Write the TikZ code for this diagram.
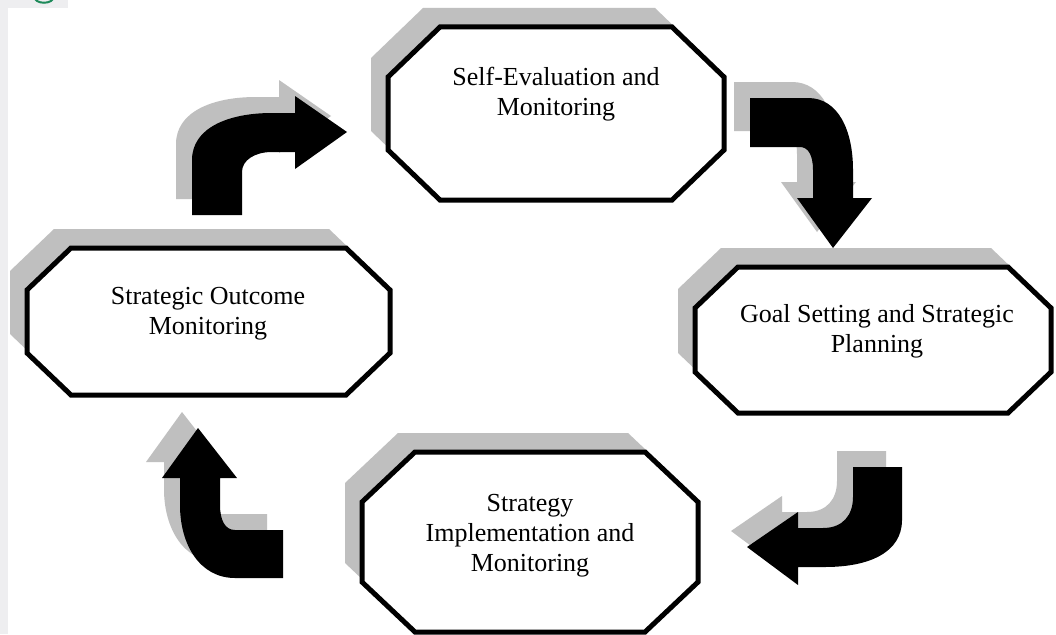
\documentclass[tikz,border=0pt]{standalone}
\usepackage{fontspec}
\setmainfont{Liberation Serif}
\begin{document}
% octagon outline: x1 y1 x2 y2 chamfer-x chamfer-y
\newcommand\octpath[6]{({#1+#5},#2) -- ({#3-#5},#2) -- (#3,{#2+#6}) -- (#3,{#4-#6}) -- ({#3-#5},#4) -- ({#1+#5},#4) -- (#1,{#4-#6}) -- (#1,{#2+#6}) -- cycle}
% block arrows, one path each
\newcommand\arrowA{(192,215) -- (192,160) .. controls (192,128) and (228,113) .. (272,113) -- (295,113) -- (295,96) -- (347,132) -- (295,169) -- (295,152) -- (272,152) .. controls (255,152) and (242,160) .. (242,172) -- (242,215) -- cycle}
\newcommand\arrowB{(750,98) -- (808,98) .. controls (838,98) and (853,130) .. (853,170) -- (853,198) -- (872,198) -- (833,248) -- (797,198) -- (813,198) -- (813,170) .. controls (813,155) and (808,147) .. (800,147) -- (750,147) -- cycle}
\newcommand\arrowC{(853,467) -- (902,467) -- (902,520) .. controls (902,552) and (870,567) .. (825,567) -- (798,567) -- (798,585) -- (747,547) -- (798,512) -- (798,528) -- (823,528) .. controls (843,528) and (853,515) .. (853,497) -- cycle}
\newcommand\arrowD{(283,530) -- (283,578) -- (235,578) .. controls (200,578) and (180,545) .. (180,505) -- (180,478) -- (162,478) -- (198,428) -- (237,478) -- (220,478) -- (220,505) .. controls (220,520) and (225,530) .. (235,530) -- cycle}
\definecolor{shade}{HTML}{BFBFBF}
\definecolor{pagegray}{HTML}{EEEEF0}
\definecolor{headgreen}{HTML}{1E8A5A}
\begin{tikzpicture}[x=1pt,y=-1pt,
  boxshadow/.style={fill=shade,shift={(-17,-19)}},
  arrowshadow/.style={fill=shade,shift={(-16,-16)}},
  stagebox/.style={draw=black,fill=white,line width=5pt,line join=miter},
  blockarrow/.style={fill=black},
  label/.style={align=center,font=\fontsize{26}{30}\selectfont,inner sep=0pt}]
\useasboundingbox (0,0) rectangle (1056,634);
\fill[white] (0,0) rectangle (1056,634);
% page margin strips
\fill[pagegray] (0,0) rectangle (8,634);
\fill[pagegray] (0,0) rectangle (68,8);
\begin{scope}
\clip (0,0) rectangle (68,8);
\draw[headgreen,line width=2pt] (34,-4) .. controls (34,5) and (54,5) .. (54,-4);
\end{scope}
% shadows
\fill[boxshadow] \octpath{388}{27}{724}{200}{52}{50};
\fill[boxshadow] \octpath{695}{267}{1051}{413}{43}{41};
\fill[boxshadow] \octpath{362}{452}{698}{632}{53}{50};
\fill[boxshadow] \octpath{27}{248}{390}{395}{44}{42};
\fill[arrowshadow] \arrowA;
\fill[arrowshadow] \arrowB;
\fill[arrowshadow] \arrowC;
\fill[arrowshadow] \arrowD;
% stages
\draw[stagebox] \octpath{388}{27}{724}{200}{52}{50};
\draw[stagebox] \octpath{695}{267}{1051}{413}{43}{41};
\draw[stagebox] \octpath{362}{452}{698}{632}{53}{50};
\draw[stagebox] \octpath{27}{248}{390}{395}{44}{42};
\node[label] (selfeval) at (556,94) {Self-Evaluation and\\Monitoring};
\node[label] (goal) at (877,331) {Goal Setting and Strategic\\Planning};
\node[label] (impl) at (530,536) {Strategy\\Implementation and\\Monitoring};
\node[label] (outcome) at (208,314) {Strategic Outcome\\Monitoring};
% cycle arrows
\fill[blockarrow] \arrowA;
\fill[blockarrow] \arrowB;
\fill[blockarrow] \arrowC;
\fill[blockarrow] \arrowD;
\end{tikzpicture}
\end{document}
